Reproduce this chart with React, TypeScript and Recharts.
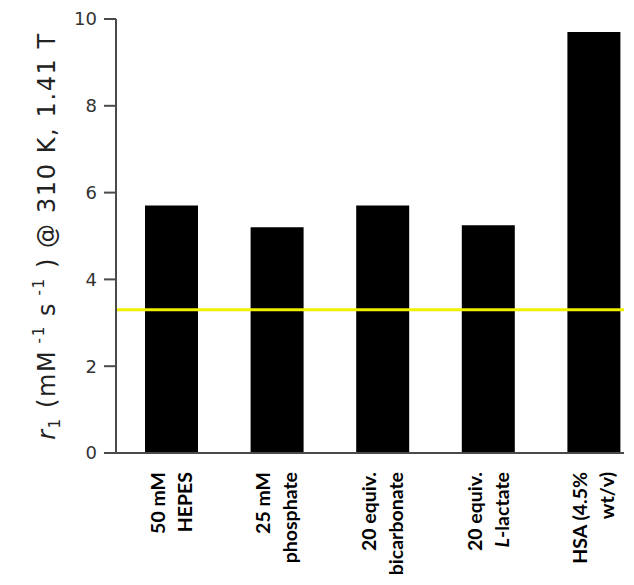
import { BarChart, Bar, XAxis, YAxis, ReferenceLine } from 'recharts';

const mediaLine1 = ['50 mM', '25 mM', '20 equiv.', '20 equiv.', 'HSA (4.5%'];
const mediaLine2 = ['HEPES', 'phosphate', 'bicarbonate', 'L-lactate', 'wt/v)'];
const relaxivity = [5.7, 5.2, 5.7, 5.25, 9.7];
const waterRef = 3.3;
const yTicks = [0, 2, 4, 6, 8, 10];

const data = relaxivity.map((r1, i) => ({ medium: i, r1 }));

const axisColor = '#4a4a4a';

function MediumTick(props: any) {
  const { x, y, payload } = props;
  const i = payload.value;
  const second = mediaLine2[i];
  return (
    <g transform={`translate(${x},${y})`}>
      <text
        transform="rotate(-90)"
        textAnchor="end"
        fontFamily="Lato, 'Open Sans', sans-serif"
        fontWeight="bold"
        fontSize={19.5}
        fill="#000"
      >
        <tspan x={-13} y={-7}>{mediaLine1[i]}</tspan>
        {second.startsWith('L-') ? (
          <tspan x={-13} y={20}>
            <tspan fontStyle="italic">L</tspan>
            {second.slice(1)}
          </tspan>
        ) : (
          <tspan x={-13} y={20}>{second}</tspan>
        )}
      </text>
    </g>
  );
}

function YLabel(props: any) {
  const vb = props.viewBox || {};
  const cx = 47;
  const cy = vb.y + vb.height / 2;
  return (
    <text
      transform={`translate(${cx},${cy}) rotate(-90)`}
      textAnchor="middle"
      fontFamily="'DejaVu Sans', sans-serif"
      fontSize={24}
      letterSpacing={1.6}
      fill="#222"
    >
      <tspan fontStyle="italic">r</tspan>
      <tspan fontSize={15} dy={5}>1</tspan>
      <tspan dy={-5}> (mM</tspan>
      <tspan fontSize={15} dy={-11}> -1</tspan>
      <tspan dy={11}> s</tspan>
      <tspan fontSize={15} dy={-11}> -1</tspan>
      <tspan dy={11}> ) @ 310 K, 1.41 T</tspan>
    </text>
  );
}

export default function App() {
  return (
    <div style={{ width: 626, height: 569 }}>
      <BarChart
        width={626}
        height={569}
        data={data}
        margin={{ top: 11, right: 10, left: 8, bottom: 0 }}
        style={{ overflow: 'visible' }}
      >
        <XAxis
          dataKey="medium"
          type="category"
          tick={<MediumTick />}
          tickLine={false}
          axisLine={{ stroke: axisColor, strokeWidth: 2 }}
          height={124}
          interval={0}
          padding={{ left: 3, right: -23 }}
          tickMargin={0}
        />
        <YAxis
          domain={[0, 10]}
          ticks={yTicks}
          width={100}
          tickSize={12}
          tickMargin={7}
          axisLine={{ stroke: axisColor, strokeWidth: 2 }}
          tickLine={{ stroke: axisColor, strokeWidth: 2 }}
          tick={{ fill: '#333', fontSize: 18, fontFamily: "'DejaVu Sans', sans-serif" }}
          label={<YLabel />}
        />
        <Bar dataKey="r1" fill="#000" barSize={53} isAnimationActive={false} />
        <ReferenceLine y={waterRef} stroke="#f0f000" strokeWidth={3} />
      </BarChart>
    </div>
  );
}
